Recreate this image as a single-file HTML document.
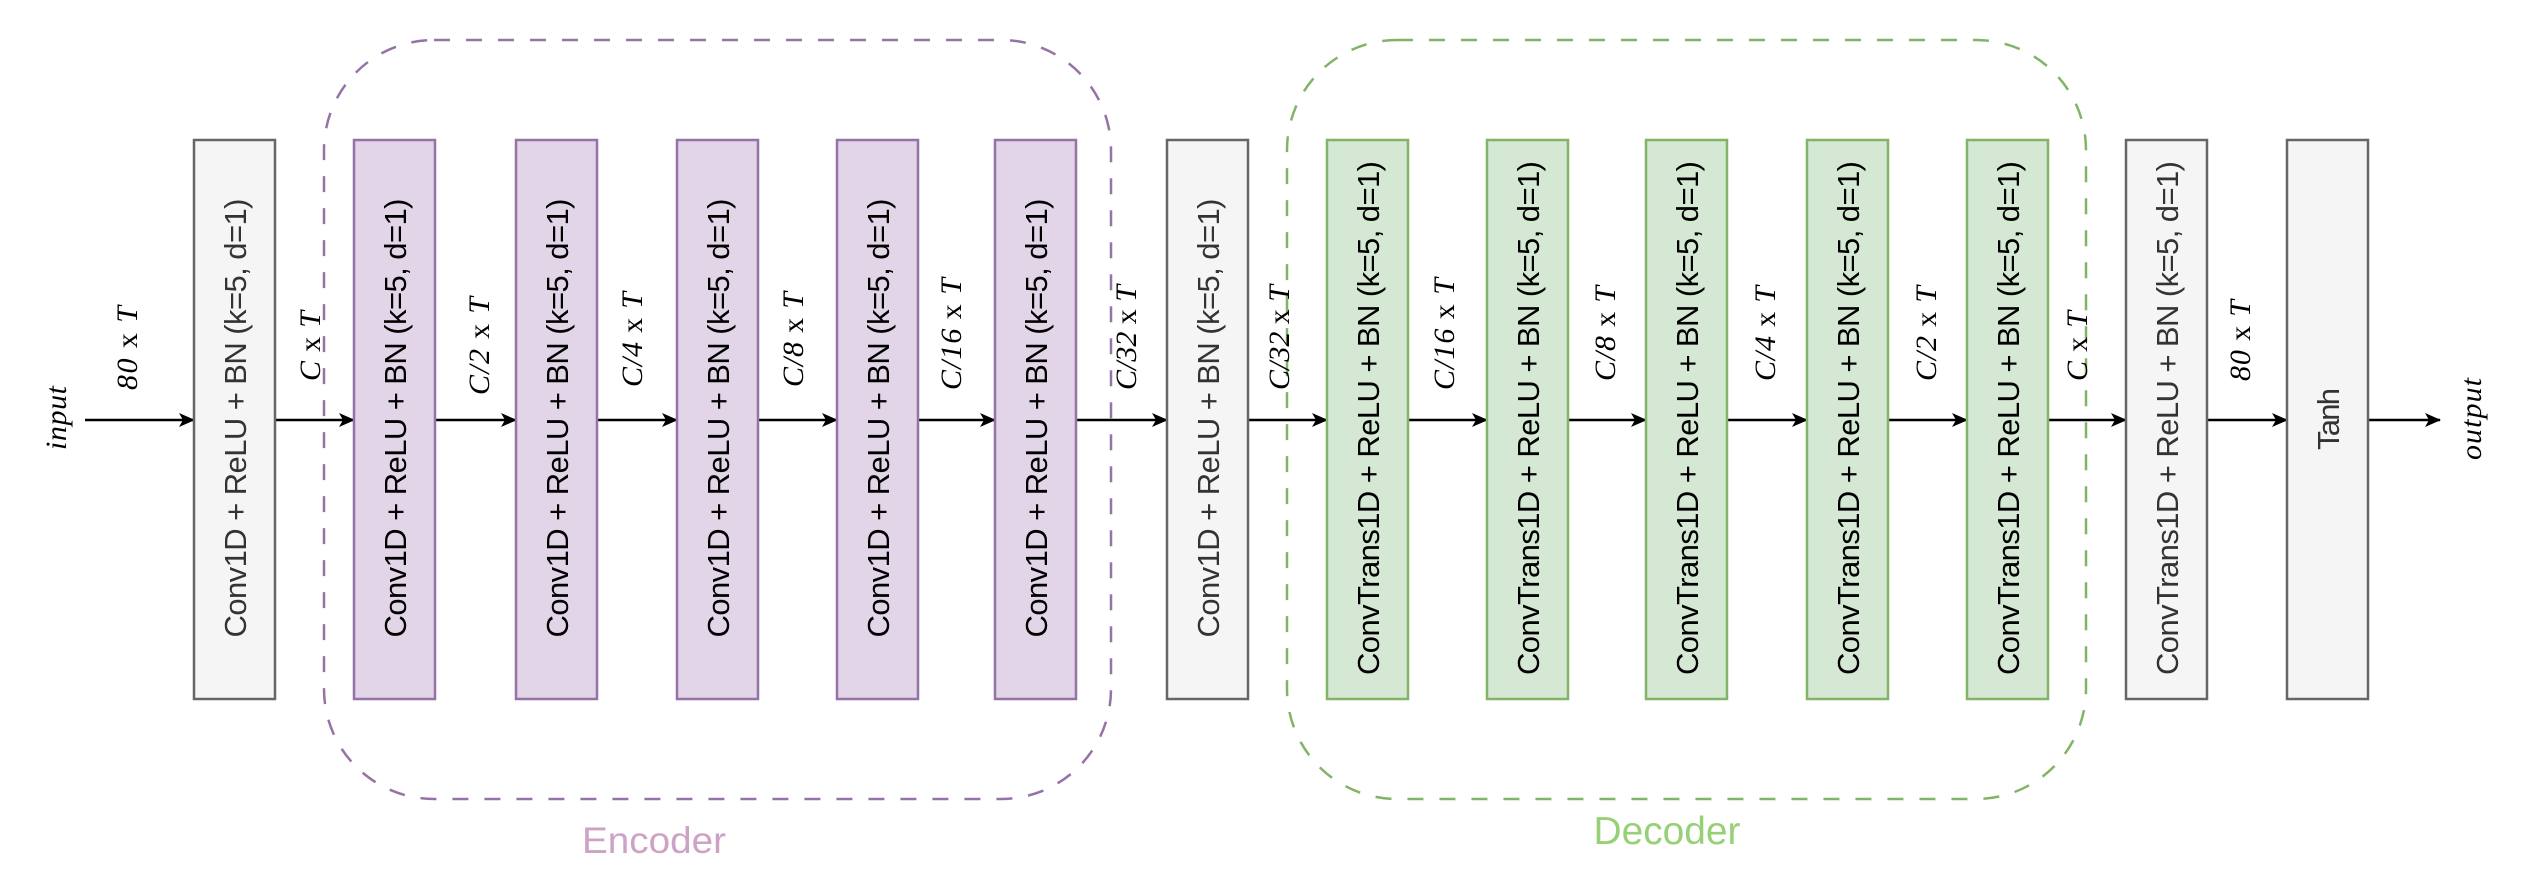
<!DOCTYPE html>
<html><head><meta charset="utf-8"><style>html,body{margin:0;padding:0;background:#fff}svg{display:block}</style></head>
<body>
<svg width="2526" height="880" viewBox="0 0 2526 880" xmlns="http://www.w3.org/2000/svg">
<defs>
<marker id="ah" markerWidth="16" markerHeight="14" refX="15" refY="7" orient="auto" markerUnits="userSpaceOnUse">
<path d="M0,0 L16,7 L0,14 L4,7 Z" fill="#000"/>
</marker>
</defs>
<rect x="324" y="40" width="787" height="759" rx="110" ry="110" fill="none" stroke="#9673a6" stroke-width="2.5" stroke-dasharray="16 16"/>
<rect x="1287" y="40" width="799" height="759" rx="110" ry="110" fill="none" stroke="#82b366" stroke-width="2.5" stroke-dasharray="16 16"/>
<text x="654" y="853" font-family="Liberation Sans, sans-serif" font-size="37" fill="#cda2c5" text-anchor="middle" textLength="144" lengthAdjust="spacingAndGlyphs">Encoder</text>
<text x="1667" y="844" font-family="Liberation Sans, sans-serif" font-size="39" fill="#97d077" text-anchor="middle" textLength="147" lengthAdjust="spacingAndGlyphs">Decoder</text>

<g stroke="#000" stroke-width="2.5" fill="none">
<line x1="85" y1="420" x2="194" y2="420" marker-end="url(#ah)"/>
<line x1="275" y1="420" x2="354" y2="420" marker-end="url(#ah)"/>
<line x1="435" y1="420" x2="516" y2="420" marker-end="url(#ah)"/>
<line x1="597" y1="420" x2="677" y2="420" marker-end="url(#ah)"/>
<line x1="758" y1="420" x2="837" y2="420" marker-end="url(#ah)"/>
<line x1="918" y1="420" x2="995" y2="420" marker-end="url(#ah)"/>
<line x1="1076" y1="420" x2="1167" y2="420" marker-end="url(#ah)"/>
<line x1="1248" y1="420" x2="1327" y2="420" marker-end="url(#ah)"/>
<line x1="1408" y1="420" x2="1487" y2="420" marker-end="url(#ah)"/>
<line x1="1568" y1="420" x2="1646" y2="420" marker-end="url(#ah)"/>
<line x1="1727" y1="420" x2="1807" y2="420" marker-end="url(#ah)"/>
<line x1="1888" y1="420" x2="1967" y2="420" marker-end="url(#ah)"/>
<line x1="2048" y1="420" x2="2126" y2="420" marker-end="url(#ah)"/>
<line x1="2207" y1="420" x2="2287" y2="420" marker-end="url(#ah)"/>
<line x1="2368" y1="420" x2="2440" y2="420" marker-end="url(#ah)"/>
</g>

<g stroke-width="2.5">
<rect x="194" y="140" width="81" height="559" fill="#f5f5f5" stroke="#666"/>
<rect x="354" y="140" width="81" height="559" fill="#e1d5e7" stroke="#9673a6"/>
<rect x="516" y="140" width="81" height="559" fill="#e1d5e7" stroke="#9673a6"/>
<rect x="677" y="140" width="81" height="559" fill="#e1d5e7" stroke="#9673a6"/>
<rect x="837" y="140" width="81" height="559" fill="#e1d5e7" stroke="#9673a6"/>
<rect x="995" y="140" width="81" height="559" fill="#e1d5e7" stroke="#9673a6"/>
<rect x="1167" y="140" width="81" height="559" fill="#f5f5f5" stroke="#666"/>
<rect x="1327" y="140" width="81" height="559" fill="#d5e8d4" stroke="#82b366"/>
<rect x="1487" y="140" width="81" height="559" fill="#d5e8d4" stroke="#82b366"/>
<rect x="1646" y="140" width="81" height="559" fill="#d5e8d4" stroke="#82b366"/>
<rect x="1807" y="140" width="81" height="559" fill="#d5e8d4" stroke="#82b366"/>
<rect x="1967" y="140" width="81" height="559" fill="#d5e8d4" stroke="#82b366"/>
<rect x="2126" y="140" width="81" height="559" fill="#f5f5f5" stroke="#666"/>
<rect x="2287" y="140" width="81" height="559" fill="#f5f5f5" stroke="#666"/>
</g>

<g font-family="Liberation Sans, sans-serif" font-size="31" text-anchor="middle" lengthAdjust="spacingAndGlyphs">
<text transform="translate(246,418) rotate(-90)" fill="#333" textLength="439">Conv1D + ReLU + BN (k=5, d=1)</text>
<text transform="translate(406,418) rotate(-90)" fill="#000" textLength="439">Conv1D + ReLU + BN (k=5, d=1)</text>
<text transform="translate(568,418) rotate(-90)" fill="#000" textLength="439">Conv1D + ReLU + BN (k=5, d=1)</text>
<text transform="translate(729,418) rotate(-90)" fill="#000" textLength="439">Conv1D + ReLU + BN (k=5, d=1)</text>
<text transform="translate(889,418) rotate(-90)" fill="#000" textLength="439">Conv1D + ReLU + BN (k=5, d=1)</text>
<text transform="translate(1047,418) rotate(-90)" fill="#000" textLength="439">Conv1D + ReLU + BN (k=5, d=1)</text>
<text transform="translate(1219,418) rotate(-90)" fill="#333" textLength="439">Conv1D + ReLU + BN (k=5, d=1)</text>
<text transform="translate(1379,418) rotate(-90)" fill="#000" textLength="514">ConvTrans1D + ReLU + BN (k=5, d=1)</text>
<text transform="translate(1539,418) rotate(-90)" fill="#000" textLength="514">ConvTrans1D + ReLU + BN (k=5, d=1)</text>
<text transform="translate(1698,418) rotate(-90)" fill="#000" textLength="514">ConvTrans1D + ReLU + BN (k=5, d=1)</text>
<text transform="translate(1859,418) rotate(-90)" fill="#000" textLength="514">ConvTrans1D + ReLU + BN (k=5, d=1)</text>
<text transform="translate(2019,418) rotate(-90)" fill="#000" textLength="514">ConvTrans1D + ReLU + BN (k=5, d=1)</text>
<text transform="translate(2178,418) rotate(-90)" fill="#333" textLength="514">ConvTrans1D + ReLU + BN (k=5, d=1)</text>
<text transform="translate(2339,419) rotate(-90)" fill="#333" textLength="62">Tanh</text>
</g>

<g font-family="Liberation Serif, serif" font-size="30" fill="#000" lengthAdjust="spacingAndGlyphs">
<text transform="translate(66,450) rotate(-90)" font-style="italic" textLength="64">input</text>
<text transform="translate(2481,460) rotate(-90)" font-style="italic" textLength="82">output</text>
<text transform="translate(137,390) rotate(-90)" textLength="84"><tspan font-style="italic">80</tspan> x <tspan font-style="italic">T</tspan></text>
<text transform="translate(320,381) rotate(-90)" textLength="70"><tspan font-style="italic">C</tspan> x <tspan font-style="italic">T</tspan></text>
<text transform="translate(489,395) rotate(-90)" textLength="98"><tspan font-style="italic">C/2</tspan> x <tspan font-style="italic">T</tspan></text>
<text transform="translate(642,387) rotate(-90)" textLength="95"><tspan font-style="italic">C/4</tspan> x <tspan font-style="italic">T</tspan></text>
<text transform="translate(803,387) rotate(-90)" textLength="95"><tspan font-style="italic">C/8</tspan> x <tspan font-style="italic">T</tspan></text>
<text transform="translate(961,390) rotate(-90)" textLength="112"><tspan font-style="italic">C/16</tspan> x <tspan font-style="italic">T</tspan></text>
<text transform="translate(1136,390) rotate(-90)" textLength="105"><tspan font-style="italic">C/32</tspan> x <tspan font-style="italic">T</tspan></text>
<text transform="translate(1289,390) rotate(-90)" textLength="105"><tspan font-style="italic">C/32</tspan> x <tspan font-style="italic">T</tspan></text>
<text transform="translate(1454,390) rotate(-90)" textLength="112"><tspan font-style="italic">C/16</tspan> x <tspan font-style="italic">T</tspan></text>
<text transform="translate(1615,381) rotate(-90)" textLength="95"><tspan font-style="italic">C/8</tspan> x <tspan font-style="italic">T</tspan></text>
<text transform="translate(1775,381) rotate(-90)" textLength="95"><tspan font-style="italic">C/4</tspan> x <tspan font-style="italic">T</tspan></text>
<text transform="translate(1936,381) rotate(-90)" textLength="95"><tspan font-style="italic">C/2</tspan> x <tspan font-style="italic">T</tspan></text>
<text transform="translate(2087,381) rotate(-90)" textLength="70"><tspan font-style="italic">C</tspan> x <tspan font-style="italic">T</tspan></text>
<text transform="translate(2250,381) rotate(-90)" textLength="81"><tspan font-style="italic">80</tspan> x <tspan font-style="italic">T</tspan></text>
</g>
</svg>
</body></html>
